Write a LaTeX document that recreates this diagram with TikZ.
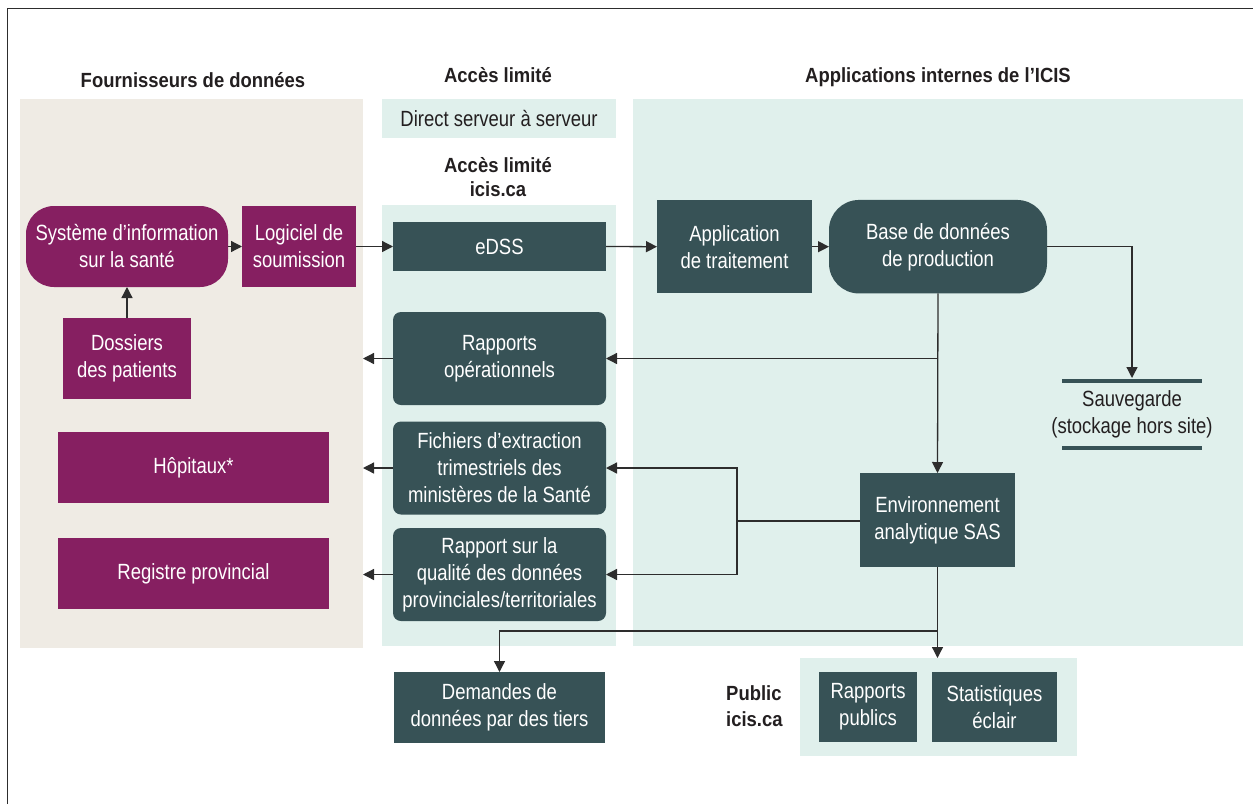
\documentclass[tikz,border=0pt]{standalone}
\usepackage{fontspec}
\setmainfont[FakeStretch=0.84]{Liberation Sans}
\newfontfamily\hfont[FakeStretch=0.9]{Liberation Sans}
\usetikzlibrary{arrows.meta}
\definecolor{plum}{RGB}{134,31,97}
\definecolor{slate}{RGB}{55,82,86}
\definecolor{mint}{RGB}{224,240,236}
\definecolor{sand}{RGB}{239,235,228}
\definecolor{ink}{RGB}{35,31,32}
\definecolor{wire}{RGB}{45,45,45}
\newcommand\bodyf{\fontsize{22}{27}\selectfont}
\newcommand\titf{\hfont\bfseries\fontsize{20.5}{24}\selectfont}
\tikzset{
  bg/.style={inner sep=0, outer sep=0},
  pbox/.style={fill=plum, text=white, font=\bodyf, inner sep=0, outer sep=0, align=center},
  tbox/.style={fill=slate, text=white, font=\bodyf, inner sep=0, outer sep=0, align=center},
  ttl/.style={font=\titf, text=ink, inner sep=0, align=center},
  wireln/.style={draw=wire, line width=1.3pt},
  conn/.style={wireln, -{Triangle[length=11pt,width=11pt]}},
  bar/.style={draw=slate, line width=4pt},
}
\begin{document}
\begin{tikzpicture}[x=1pt,y=-1pt]
\useasboundingbox (0,0) rectangle (1253,804);
% frame
\draw[draw=wire, line width=1.6pt] (7.5,804) -- (7.5,8.5) -- (1253,8.5);
% backgrounds
\node[bg, fill=sand, minimum width=343pt, minimum height=549pt] (sandbg) at (191.5,373.5) {};
\node[bg, fill=mint, minimum width=234pt, minimum height=38.5pt] (topbg) at (499,118.25) {};
\node[bg, fill=mint, minimum width=234pt, minimum height=441pt] (midbg) at (499,425.5) {};
\node[bg, fill=mint, minimum width=610.5pt, minimum height=547pt] (rightbg) at (937.75,372.5) {};
\node[bg, fill=mint, minimum width=277pt, minimum height=98pt] (pubbg) at (938.5,707) {};
% titles
\node[ttl, anchor=base] (t1) at (193,87) {Fournisseurs de données};
\node[ttl, anchor=base] (t2) at (498,82) {Accès limité};
\node[ttl, anchor=base] (t3) at (938,82) {Applications internes de l’ICIS};
\node[ttl, anchor=base] (t4) at (498,172) {Accès limité};
\node[ttl, anchor=base] (t5) at (498,196) {icis.ca};
\node[ttl, anchor=base west] (t6) at (726,700) {Public};
\node[ttl, anchor=base west] (t7) at (726,726) {icis.ca};
\node[font=\bodyf, text=ink, inner sep=0] (direct) at (499,118.25) {Direct serveur à serveur};
% providers
\node[pbox, rounded corners=28pt, minimum width=202pt, minimum height=81pt] (sis) at (127,246.5) {Système d’information\\sur la santé};
\node[pbox, minimum width=114pt, minimum height=81pt] (logi) at (299,246.5) {Logiciel de\\soumission};
\node[pbox, minimum width=128pt, minimum height=81pt] (doss) at (127,358.5) {Dossiers\\des patients};
\node[pbox, minimum width=271pt, minimum height=71pt] (hop) at (193.5,467.5) {Hôpitaux*};
\node[pbox, minimum width=271pt, minimum height=71pt] (reg) at (193.5,573.5) {Registre provincial};
% limited access column
\node[tbox, minimum width=213pt, minimum height=49pt] (edss) at (499.5,246.5) {eDSS};
\node[tbox, rounded corners=8pt, minimum width=213pt, minimum height=93pt] (rop) at (499.5,358.5) {Rapports\\opérationnels};
\node[tbox, rounded corners=8pt, minimum width=213pt, minimum height=93pt] (fich) at (499.5,468) {Fichiers d’extraction\\trimestriels des\\ministères de la Santé};
\node[tbox, rounded corners=8pt, minimum width=213pt, minimum height=93pt] (qual) at (499.5,574.5) {Rapport sur la\\qualité des données\\provinciales/territoriales};
\node[tbox, minimum width=211pt, minimum height=71pt] (dem) at (499.5,707.5) {Demandes de\\données par des tiers};
% internal applications
\node[tbox, minimum width=155pt, minimum height=93.5pt] (app) at (734.5,246.7) {Application\\de traitement};
\node[tbox, rounded corners=30pt, minimum width=218pt, minimum height=93.5pt] (base) at (938,246.7) {Base de données\\de production};
\node[tbox, minimum width=155pt, minimum height=94pt] (sas) at (937.5,520) {Environnement\\analytique SAS};
\node[font=\bodyf, text=ink, inner sep=0, outer sep=0, align=center, minimum height=67pt] (sauv) at (1132,414.5) {Sauvegarde\\(stockage hors site)};
\draw[bar] ([xshift=-70pt]sauv.north) -- ([xshift=70pt]sauv.north);
\draw[bar] ([xshift=-70pt]sauv.south) -- ([xshift=70pt]sauv.south);
% public
\node[tbox, minimum width=98pt, minimum height=70pt] (rpub) at (868,707) {Rapports\\publics};
\node[tbox, minimum width=125pt, minimum height=70pt] (stat) at (994.5,707) {Statistiques\\éclair};
% connectors
\draw[conn] (sis.east) -- (logi.west);
\draw[conn] (doss.north) -- (sis.south);
\draw[conn] (logi.east) -- (edss.west);
\draw[conn] (edss.east) -- (app.west);
\draw[conn] (app.east) -- (base.west);
\draw[conn, shorten >=3pt] (base.east) -| (sauv.north);
\draw[conn] (base.south) -- (sas.north);
\draw[conn] (base.south |- rop.east) -- (rop.east);
\draw[conn] (rop.west) -- (rop.west -| sandbg.east);
\draw[conn] (fich.west) -- (fich.west -| sandbg.east);
\draw[conn] (qual.west) -- (qual.west -| sandbg.east);
\coordinate (bx) at (737,521);
\draw[conn] (sas.west |- bx) -- (bx) |- (fich.east);
\draw[conn] (bx) |- (qual.east);
\draw[conn] (sas.south) -- (sas.south |- pubbg.north);
\coordinate (j2) at (937.5,631);
\draw[conn] (j2) -| (dem.north);
\end{tikzpicture}
\end{document}
